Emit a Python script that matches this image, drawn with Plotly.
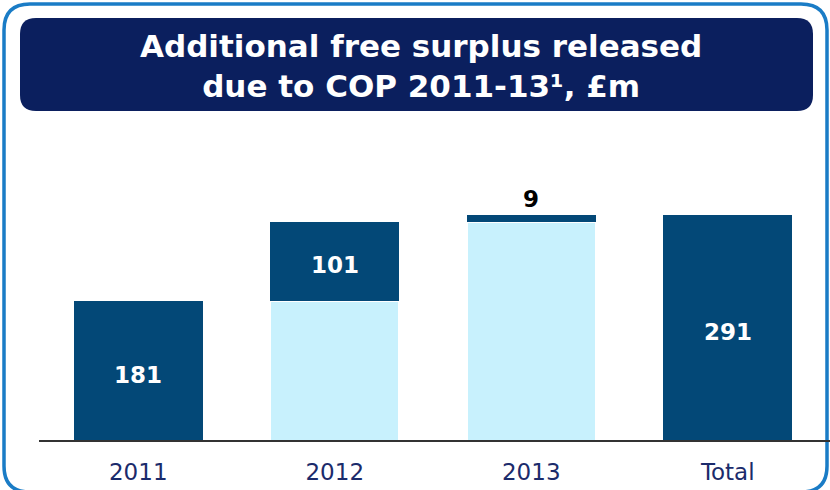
import plotly.graph_objects as go

categories = ["2011", "2012", "2013", "Total"]
increments = [181, 101, 9]
total_value = 291
title_text = "<b>Additional free surplus released<br>due to COP 2011-13¹, £m</b>"

# build stacked waterfall pieces from the data
base_vals = []
run = 0
for v in increments:
    base_vals.append(run)
    run += v
base_vals.append(0)
dark_vals = increments + [total_value]
xpos = list(range(len(categories)))

W, H = 830, 490
ML, MR, MT, MB = 40, 4, 130, 49
PW, PH = W - ML - MR, H - MT - MB
YMAX = 401

DARK = "#034877"
LIGHT = "#c8f1fd"
NAVY = "#0b1f5e"
FRAME = "#1a7cc6"

def px(x):
    return (x - ML) / PW

def py(y):
    return (H - MB - y) / PH

def rrect(x0, y0, x1, y1, r):
    pts = (
        f"M {px(x0+r)},{py(y0)} L {px(x1-r)},{py(y0)} "
        f"Q {px(x1)},{py(y0)} {px(x1)},{py(y0+r)} "
        f"L {px(x1)},{py(y1-r)} Q {px(x1)},{py(y1)} {px(x1-r)},{py(y1)} "
        f"L {px(x0+r)},{py(y1)} Q {px(x0)},{py(y1)} {px(x0)},{py(y1-r)} "
        f"L {px(x0)},{py(y0+r)} Q {px(x0)},{py(y0)} {px(x0+r)},{py(y0)} Z"
    )
    return pts

fig = go.Figure()
fig.add_trace(go.Bar(x=xpos, y=base_vals, marker=dict(color=LIGHT, line=dict(width=2, color="white")),
                     hoverinfo="skip", showlegend=False))
fig.add_trace(go.Bar(x=xpos, y=dark_vals, marker=dict(color=DARK, line=dict(width=0)),
                     showlegend=False))

annotations = []
for c, b, v in zip(xpos, base_vals, dark_vals):
    if v < 30:
        annotations.append(dict(x=c, y=b + v, xref="x", yref="y", text=f"<b>{v}</b>",
                                showarrow=False, yanchor="bottom", yshift=1,
                                font=dict(size=23, color="black", family="DejaVu Sans")))
    else:
        annotations.append(dict(x=c, y=b + v / 2, xref="x", yref="y", text=f"<b>{v}</b>",
                                showarrow=False, yshift=-4, yanchor="middle",
                                font=dict(size=23, color="white", family="DejaVu Sans")))

annotations.append(dict(x=px(421), y=py(66), xref="paper", yref="paper", text=title_text,
                        showarrow=False, align="center", xanchor="center", yanchor="middle",
                        font=dict(size=31, color="white", family="DejaVu Sans")))

shapes = [
    dict(type="path", xref="paper", yref="paper", path=rrect(4, 4, 827, 492, 26),
         line=dict(color=FRAME, width=3.5), fillcolor="rgba(0,0,0,0)", layer="below"),
    dict(type="path", xref="paper", yref="paper", path=rrect(20, 18, 813, 111, 16),
         line=dict(width=0), fillcolor=NAVY, layer="below"),
    dict(type="line", xref="paper", yref="paper", x0=px(39), x1=px(830), y0=0, y1=0,
         line=dict(color="#333333", width=2)),
]

fig.update_layout(
    width=W, height=H,
    margin=dict(l=ML, r=MR, t=MT, b=MB),
    paper_bgcolor="white", plot_bgcolor="white",
    barmode="stack", bargap=0.344,
    xaxis=dict(range=[-0.5, len(categories) - 0.5], tickmode="array",
               tickvals=xpos, ticktext=categories, automargin=False,
               showgrid=False, showline=False, zeroline=False, ticks="",
               tickfont=dict(size=23, color="#1b2b6b", family="DejaVu Sans"),
               ticklabelstandoff=15),
    yaxis=dict(range=[0, YMAX], visible=False, showgrid=False, zeroline=False,
               automargin=False),
    annotations=annotations, shapes=shapes,
)

fig.write_html("out.html")
